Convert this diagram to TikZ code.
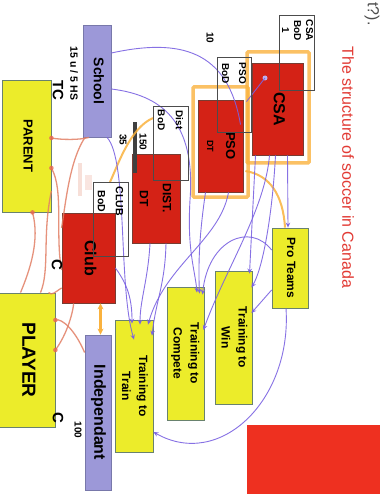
\documentclass[tikz,border=0pt]{standalone}
\usepackage{fontspec}
\setmainfont{Liberation Sans}
\usepackage{graphicx}
\usetikzlibrary{arrows.meta}
\definecolor{redbox}{RGB}{212,34,22}
\definecolor{yellowbox}{RGB}{236,236,42}
\definecolor{bluebox}{RGB}{156,152,216}
\definecolor{yedge}{RGB}{105,130,110}
\definecolor{redge}{RGB}{120,60,50}
\definecolor{bedge}{RGB}{120,120,170}
\definecolor{purp}{RGB}{122,98,226}
\definecolor{orng}{RGB}{250,178,62}
\definecolor{salm}{RGB}{226,128,102}
\definecolor{titlered}{RGB}{226,58,52}
\definecolor{bigred}{RGB}{238,48,32}
\newcommand{\rottxt}[1]{\rotatebox{-90}{\begin{tabular}{@{}c@{}}#1\end{tabular}}}
\tikzset{
  box/.style={inner sep=0pt, line width=0.8pt, text=black},
  rbox/.style={box, fill=redbox, draw=redge},
  ybox/.style={box, fill=yellowbox, draw=yedge},
  bbox/.style={box, fill=bluebox, draw=bedge},
  bodbox/.style={box, draw=black!70, line width=0.7pt},
  lbl/.style={inner sep=0pt, text=black},
  pline/.style={draw=purp, line width=0.9pt, opacity=0.9},
  parr/.style={pline, -{Stealth[length=5pt,width=4.5pt]}},
  oline/.style={draw=orng, line width=2pt, opacity=0.85},
  oglow/.style={draw=orng, line width=3.5pt, opacity=0.8, rounded corners=1pt},
  sline/.style={draw=salm, line width=1.3pt, opacity=0.85},
  sdot/.style={fill=salm!80!red, opacity=0.8},
}
\begin{document}
\begin{tikzpicture}[x=1pt,y=-1pt]
\useasboundingbox (0,0) rectangle (388,494);
\fill[white] (0,0) rectangle (388,494);

% title and page fragments
\node[inner sep=0pt, text=titlered, rotate=-90, font=\fontsize{16}{18}\selectfont] (title) at (348,167.5) {The structure of soccer in Canada};
\node[inner sep=0pt, text=black!70, rotate=-90, font=\fontsize{16}{18}\selectfont] (frag) at (372,14) {t?).};
\node[inner sep=0pt, fill=bigred, minimum width=133pt, minimum height=70pt] (panel) at (313.5,460) {};

% boxes
\node[ybox, minimum width=49pt, minimum height=132pt, font=\fontsize{13}{15}\selectfont\bfseries] (parent) at (26.5,146) {\rottxt{PARENT}};
\node[ybox, minimum width=57pt, minimum height=134pt, font=\fontsize{19}{21}\selectfont\bfseries] (player) at (26.5,360) {\rottxt{PLAYER}};
\node[bbox, minimum width=28pt, minimum height=112pt, font=\fontsize{14}{16}\selectfont\bfseries] (school) at (97,81) {\rottxt{School}};
\node[bbox, minimum width=26pt, minimum height=155pt, font=\fontsize{16}{18}\selectfont\bfseries] (indep) at (98,412.5) {\rottxt{Independant}};

\draw[oglow] (247,52) rectangle (309,163);
\draw[oglow] (193,87) rectangle (248,197);

\node[rbox, minimum width=51pt, minimum height=92pt, font=\fontsize{16}{18}\selectfont\bfseries] (csa) at (277.5,109) {\rottxt{CSA}};
\node[rbox, minimum width=45pt, minimum height=92pt, font=\fontsize{13}{19}\selectfont\bfseries] (pso) at (220.5,146) {\rottxt{PSO\\{\fontsize{9}{10}\selectfont DT}}};
\node[rbox, minimum width=48pt, minimum height=89pt, font=\fontsize{12}{23}\selectfont\bfseries] (dist) at (156,198.5) {\rottxt{DIST.\\DT}};
\node[rbox, minimum width=53pt, minimum height=90pt, font=\fontsize{16}{18}\selectfont\bfseries] (club) at (88.5,258) {\rottxt{Club}};

\node[ybox, minimum width=38pt, minimum height=132pt, font=\fontsize{12}{17}\selectfont\bfseries] (ttt) at (134,386) {\rottxt{Training to\\Train}};
\node[ybox, minimum width=37pt, minimum height=133pt, font=\fontsize{12}{17}\selectfont\bfseries] (ttc) at (185.5,353.5) {\rottxt{Training to\\Compete}};
\node[ybox, minimum width=37pt, minimum height=133pt, font=\fontsize{12}{17}\selectfont\bfseries] (ttw) at (233.5,337.5) {\rottxt{Training to\\Win}};
\node[ybox, minimum width=36pt, minimum height=80pt, font=\fontsize{12}{14}\selectfont\bfseries] (prot) at (290,268) {\rottxt{Pro Teams}};

% faint marks
\fill[salm, opacity=.25] (78,163) rectangle (82,196);
\fill[salm, opacity=.2] (85,175) rectangle (92,190);
\fill[black!75] (133,122) rectangle (137,173);

% orange connectors
\draw[oline] ([xshift=2pt,yshift=-25pt]pso.east) .. controls (270,175) and (283,195) .. ([xshift=-5pt]prot.north);
\draw[oline] (153,118) .. controls (130,128) and (118,165) .. (110,182);
\draw[draw=orng, line width=2.2pt, {Stealth[length=6pt,width=6pt]}-{Stealth[length=6pt,width=6pt]}] ([xshift=12pt]club.south) -- ([xshift=2.5pt]indep.north);

% salmon connectors
\draw[sline] ([xshift=-8pt]school.south) .. controls (80,140) and (62,140) .. ([yshift=8pt]parent.east);
\draw[sline] ([xshift=-12pt]school.south) .. controls (70,160) and (66,200) .. ([yshift=30pt]club.west);
\draw[sline] ([yshift=-22pt]parent.east) .. controls (64,190) and (55,235) .. ([yshift=-12pt]club.west);
\draw[sline] ([xshift=6pt]parent.south) .. controls (40,240) and (30,270) .. ([xshift=-6pt]player.north);
\draw[sline] ([yshift=-45pt]parent.east) .. controls (42,235) and (50,270) .. ([xshift=14pt]player.north);
\draw[sline] ([yshift=-30pt]club.west) .. controls (55,292) and (52,296) .. ([xshift=22pt]player.north);
\draw[sline] ([yshift=60pt]indep.west) .. controls (75,330) and (62,318) .. ([yshift=40pt]player.east);
\draw[sline] ([yshift=10pt]player.east) .. controls (70,330) and (74,305) .. ([xshift=-15pt]club.south);
\fill[sdot] ([yshift=8pt]parent.east) circle (2.3pt);
\fill[sdot] ([yshift=-22pt]parent.east) circle (2.3pt);
\fill[sdot] ([xshift=6pt]parent.south) circle (2.3pt);
\fill[sdot] ([yshift=40pt]player.east) circle (2.3pt);
\fill[sdot] ([yshift=10pt]player.east) circle (2.3pt);

% purple connectors
\draw[pline] ([yshift=28pt]school.east) .. controls (180,38) and (228,50) .. ([xshift=20pt,yshift=-25pt]pso.north);
\fill[purp!50!white] ([xshift=-12.5pt,yshift=31pt]csa.center) circle (2.5pt);
\draw[pline] ([xshift=-12.5pt,yshift=31pt]csa.center) -- ([xshift=26pt,yshift=-2pt]pso.north);
\draw[parr] ([yshift=-8pt]school.east) .. controls (160,95) and (196,120) .. (190,200) .. controls (187,250) and (195,270) .. ([xshift=11.5pt,yshift=-6pt]ttc.north);
\draw[parr] ([xshift=10pt]school.south) .. controls (128,160) and (118,285) .. ([yshift=-20pt]ttt.north);
\draw[parr] ([xshift=-6pt]dist.south) .. controls (148,280) and (140,300) .. ([xshift=6pt,yshift=-5pt]ttt.north);
\draw[parr] ([xshift=10pt]dist.south) .. controls (165,285) and (156,300) .. ([xshift=18pt,yshift=-16pt]ttt.north);
\draw[parr] ([xshift=-15pt]pso.south) .. controls (200,230) and (198,260) .. ([xshift=14pt,yshift=-7pt]ttc.north);
\draw[parr] ([xshift=8pt]pso.south) .. controls (220,240) and (165,265) .. ([xshift=14pt,yshift=-5pt]ttt.north);
\draw[parr] ([xshift=-22pt]csa.south) -- ([xshift=16pt,yshift=-3pt]ttw.north);
\draw[parr] ([xshift=-8pt]csa.south) .. controls (265,210) and (225,270) .. ([xshift=-1pt,yshift=23.5pt]ttc.east);
\draw[parr] ([xshift=-2pt]csa.south) .. controls (272,220) and (262,270) .. ([xshift=-1pt,yshift=50pt]ttw.east);
\draw[parr] ([xshift=10pt]csa.south) -- ([xshift=-2pt]prot.north);
\draw[parr] ([xshift=-4pt]prot.south) .. controls (292,400) and (220,470) .. ([yshift=-46pt]ttt.east);
\draw[parr] ([yshift=18pt]prot.west) .. controls (250,222) and (208,240) .. ([xshift=17pt,yshift=-8pt]ttc.north);
\draw[parr] ([yshift=-22pt]prot.west) -- ([xshift=-1pt,yshift=24.5pt]ttw.east);
\draw[parr] ([yshift=-10pt]club.east) .. controls (128,285) and (132,300) .. ([xshift=-2pt,yshift=-4pt]ttt.north);

% board outlines and labels
\node[bodbox, minimum width=35pt, minimum height=75pt] (csabod) at (296.5,52.5) {};
\node[lbl, anchor=north, font=\fontsize{10}{12}\selectfont\bfseries] (csabodt) at ([yshift=-5pt]csabod.north) {\rottxt{CSA\\BoD\\1}};
\node[bodbox, minimum width=34pt, minimum height=75pt] (psobod) at (234,94.5) {};
\node[lbl, anchor=north, font=\fontsize{10}{17}\selectfont\bfseries] (psobodt) at ([yshift=-6pt]psobod.north) {\rottxt{PSO\\BoD}};
\node[bodbox, minimum width=35pt, minimum height=74pt] (distbod) at (170.5,143) {};
\node[lbl, anchor=north, font=\fontsize{10}{18}\selectfont\bfseries] (distbodt) at ([yshift=-4pt]distbod.north) {\rottxt{Dist\\BoD}};
\node[bodbox, minimum width=35pt, minimum height=74pt] (clubbod) at (110.5,219) {};
\node[lbl, anchor=north, font=\fontsize{10.5}{18}\selectfont\bfseries] (clubbodt) at ([yshift=-5pt]clubbod.north) {\rottxt{CLUB\\BoD}};

% numbers and marks
\node[lbl, rotate=-90, font=\fontsize{10}{12}\selectfont\bfseries] (n10) at (210,38) {10};
\node[lbl, rotate=-90, font=\fontsize{10}{12}\selectfont\bfseries] (n150) at (143,142) {150};
\node[lbl, rotate=-90, font=\fontsize{10}{12}\selectfont\bfseries] (n35) at (123,140) {35};
\node[lbl, rotate=-90, font=\fontsize{10}{12}\selectfont\bfseries] (n100) at (78,430) {100};
\node[lbl, rotate=-90, font=\fontsize{10.5}{12}\selectfont\bfseries] (hs) at (74,73.5) {15 u / 5 HS};
\node[lbl, rotate=-90, font=\fontsize{15}{17}\selectfont\bfseries] (tc) at (58,90) {TC};
\node[lbl, rotate=-90, font=\fontsize{15}{17}\selectfont\bfseries] (c1) at (57,265) {C};
\node[lbl, rotate=-90, font=\fontsize{15}{17}\selectfont\bfseries] (c2) at (58,418) {C};
\end{tikzpicture}
\end{document}
